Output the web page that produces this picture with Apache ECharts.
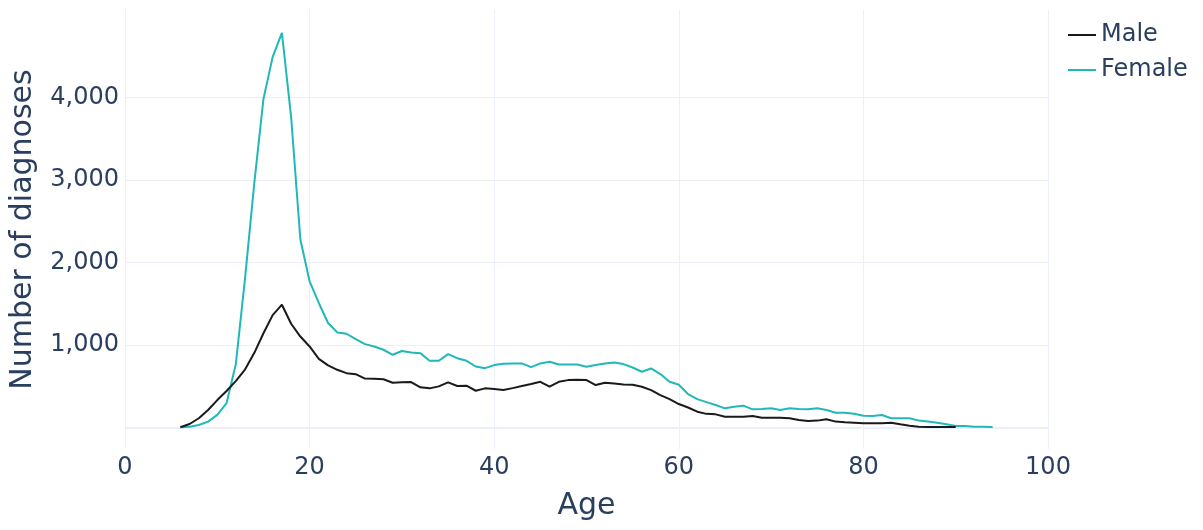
<!DOCTYPE html>
<html>
<head>
<meta charset="utf-8">
<script src="https://cdn.jsdelivr.net/npm/echarts@6/dist/echarts.min.js"></script>
<style>
html,body{margin:0;padding:0;background:#fff;}
#chart{width:1203px;height:530px;}
</style>
</head>
<body>
<div id="chart"></div>
<script>
// Ages (years) for each point
const ages = [6,7,8,9,10,11,12,13,14,15,16,17,18,19,20,21,22,23,24,25,26,27,28,29,30,
  31,32,33,34,35,36,37,38,39,40,41,42,43,44,45,46,47,48,49,50,51,52,53,54,55,56,57,58,59,60,
  61,62,63,64,65,66,67,68,69,70,71,72,73,74,75,76,77,78,79,80,81,82,83,84,85,86,87,88,89,90,
  91,92,93,94];

// Male diagnoses, ages 6..90
const maleValues = [0,40,110,210,330,440,560,700,900,1140,1360,1486,1255,1100,980,830,750,697,656,644,
  590,587,583,540,545,548,485,472,496,544,500,504,443,472,465,451,475,500,525,552,
  492,552,572,576,572,512,540,530,520,516,492,451,391,342,282,240,189,163,157,129,
  129,129,137,117,117,117,109,89,77,81,97,69,60,56,50,48,48,56,36,20,8,4,4,4,4];

// Female diagnoses, ages 6..94
const femaleValues = [0,8,28,69,150,292,760,1800,2950,3980,4490,4780,3760,2276,1770,1507,1264,1150,1134,1069,
  1008,980,940,879,925,907,899,806,806,887,838,806,737,717,754,770,772,774,729,774,
  794,762,762,762,733,755,774,786,766,725,673,713,645,552,516,403,342,305,270,230,
  250,262,218,222,230,210,230,222,218,230,210,177,177,165,140,137,149,109,109,109,
  81,69,56,36,16,16,8,8,4];

const xTicks = [0,20,40,60,80,100];
const yTicks = [0,1000,2000,3000,4000];
const yTickLabels = [1000,2000,3000,4000];

const seriesNames = ['Male','Female'];

const maleData = maleValues.map((v,i)=>[ages[i], v]);
const femaleData = femaleValues.map((v,i)=>[ages[i], v]);

const textColor = '#2a3f5f';
const gridColor = '#EBF0F8';
const FONT = 'DejaVu Sans';

const chart = echarts.init(document.getElementById('chart'), null, {renderer:'canvas'});
chart.setOption({
  animation: false,
  backgroundColor: '#ffffff',
  textStyle: {fontFamily: FONT},
  grid: {left: 125, right: 155, top: 10, bottom: 81, containLabel: false},
  legend: {
    orient: 'vertical',
    left: 1062,
    top: 15,
    itemWidth: 28,
    itemHeight: 14,
    itemGap: 5,
    itemStyle: {opacity: 0},
    textStyle: {color: textColor, fontSize: 24, fontFamily: FONT, lineHeight: 30},
    data: seriesNames
  },
  xAxis: {
    type: 'value',
    min: 0,
    max: 100,
    interval: 20,
    name: 'Age',
    nameLocation: 'middle',
    nameGap: 42,
    nameTextStyle: {color: textColor, fontSize: 30, fontFamily: FONT},
    axisLine: {show: false, onZero: false},
    axisTick: {show: false},
    axisLabel: {color: textColor, fontSize: 24, fontFamily: FONT, margin: 7},
    splitLine: {show: true, lineStyle: {color: gridColor, width: 1}}
  },
  yAxis: {
    type: 'value',
    min: -263,
    max: 5058,
    name: 'Number of diagnoses',
    nameLocation: 'middle',
    nameGap: 87,
    nameTextStyle: {color: textColor, fontSize: 30, fontFamily: FONT},
    axisLine: {show: false},
    axisTick: {show: false, customValues: yTicks},
    axisLabel: {color: textColor, fontSize: 24, fontFamily: FONT, margin: 6,
      customValues: yTickLabels,
      formatter: v => v.toLocaleString('en-US')},
    splitLine: {show: true, lineStyle: {color: gridColor, width: 1}}
  },
  series: [
    {
      name: seriesNames[0],
      type: 'line',
      data: maleData,
      symbol: 'none',
      lineStyle: {color: '#1a1a1a', width: 2},
      itemStyle: {color: '#1a1a1a'},
      z: 3,
      markLine: {
        silent: true,
        symbol: 'none',
        label: {show: false},
        lineStyle: {color: gridColor, width: 2, type: 'solid'},
        data: [{yAxis: 0}],
        z: 1
      }
    },
    {
      name: seriesNames[1],
      type: 'line',
      data: femaleData,
      symbol: 'none',
      lineStyle: {color: '#20b8b8', width: 2},
      itemStyle: {color: '#20b8b8'},
      z: 2
    }
  ]
});
</script>
</body>
</html>
